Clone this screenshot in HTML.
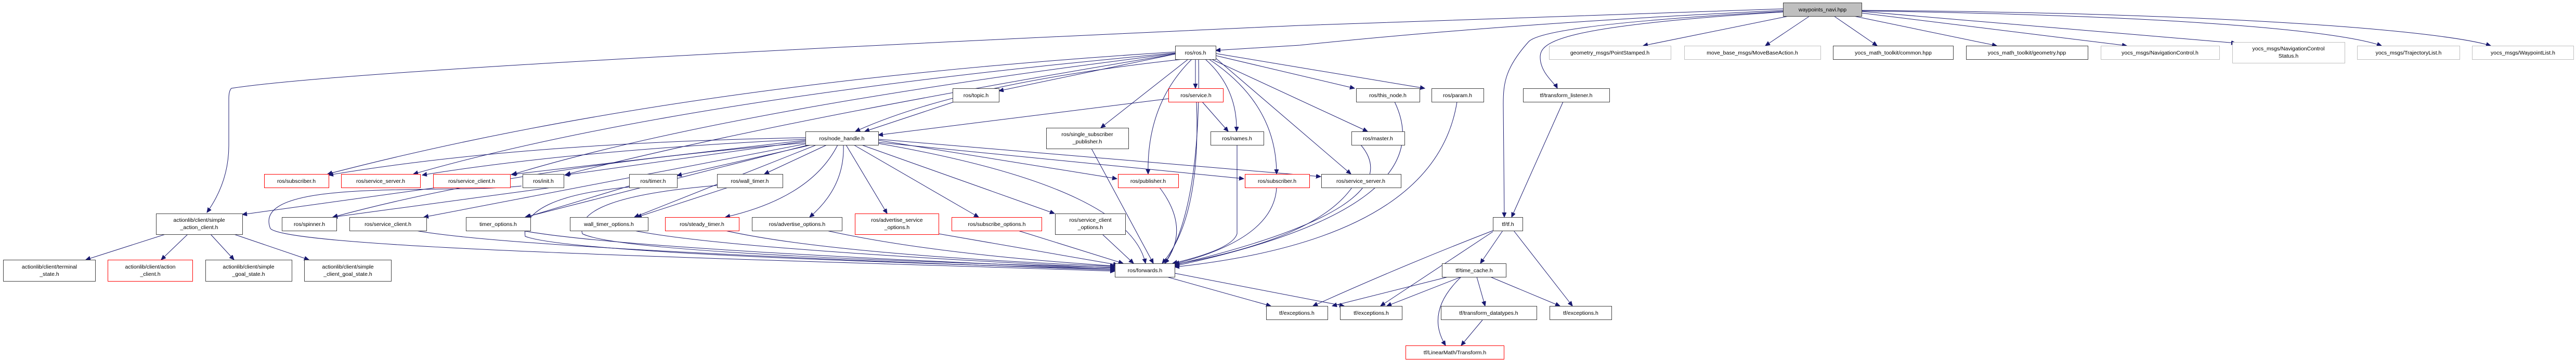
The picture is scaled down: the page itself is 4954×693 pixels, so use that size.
<!DOCTYPE html>
<html><head><meta charset="utf-8"><style>
html,body{margin:0;padding:0;background:#fff;}
svg{display:block;}
text{font-family:"Liberation Sans",sans-serif;font-size:10.5px;fill:#000;}
.e{fill:none;stroke:#191970;stroke-width:1;marker-end:url(#a);}
.n{fill:#fff;stroke:#404040;stroke-width:1;}
.r{fill:#fff;stroke:#ff0000;stroke-width:1;}
.g{fill:#fff;stroke:#bfbfbf;stroke-width:1;}
</style></head><body>
<svg width="4954" height="693" viewBox="0 0 4954 693" xmlns="http://www.w3.org/2000/svg">
<defs><marker id="a" markerUnits="userSpaceOnUse" markerWidth="10" markerHeight="10" refX="9" refY="4" orient="auto"><path d="M0,0 L9,4 L0,8 z" fill="#191970" stroke="#191970"/></marker></defs>
<g>
<!-- waypoints edges -->
<path class="e" d="M3429,20 Q2900,45 2500,87 L2338,97"/>
<path class="e" d="M3429,17 L2500,49 Q700,130 445,170 Q440,175 440,190 L440,280 Q440,350 398,409"/>
<path class="e" d="M3440,31 L3160,88"/>
<path class="e" d="M3480,31 L3395,88"/>
<path class="e" d="M3527,31 L3610,88"/>
<path class="e" d="M3565,31 L3840,88"/>
<path class="e" d="M3580,25 L4090,88"/>
<path class="e" d="M3580,22 L4300,83"/>
<path class="e" d="M3580,21 C4200,30 4500,60 4580,88"/>
<path class="e" d="M3580,20 C4300,25 4700,60 4790,88"/>
<path class="e" d="M3429,22 C3100,40 2960,60 2940,80 C2895,130 2891,160 2891,200 L2893,418"/>
<path class="e" d="M3429,23 C3000,50 2962,80 2962,110 C2962,140 2990,160 2995,170"/>
<!-- ros.h edges -->
<path class="e" d="M2260,100 Q1300,160 630,335"/>
<path class="e" d="M2260,102 Q1300,190 795,335"/>
<path class="e" d="M2260,103 Q1400,210 985,336"/>
<path class="e" d="M2260,104 Q1500,230 1088,336"/>
<path class="e" d="M2260,104 L1921,175"/>
<path class="e" d="M2275,114 Q1850,160 1645,253"/>
<path class="e" d="M2299,114 L2299,170"/>
<path class="e" d="M2285,114 L2117,246"/>
<path class="e" d="M2292,114 Q2205,200 2208,335"/>
<path class="e" d="M2318,114 Q2380,170 2378,253"/>
<path class="e" d="M2325,114 Q2455,200 2455,335"/>
<path class="e" d="M2330,114 L2630,253"/>
<path class="e" d="M2338,112 L2598,335"/>
<path class="e" d="M2338,107 L2605,170"/>
<path class="e" d="M2338,103 L2740,170"/>
<path class="e" d="M2305,114 Q2310,400 2240,507"/>
<path class="e" d="M2247,190 L1689,260"/>
<path class="e" d="M2312,196 L2362,253"/>
<path class="e" d="M2301,196 Q2310,420 2235,507"/>
<path class="e" d="M1835,196 L1663,253"/>
<path class="e" d="M2099,286 Q2150,380 2218,507"/>
<path class="e" d="M2379,279 L2379,450 Q2370,480 2255,507"/>
<path class="e" d="M2617,279 Q2720,400 2259,510"/>
<path class="e" d="M2682,196 Q2780,400 2259,512"/>
<path class="e" d="M2802,196 Q2760,460 2259,514"/>
<path class="e" d="M2600,361 Q2530,460 2259,509"/>
<path class="e" d="M2455,361 Q2450,460 2259,508"/>
<path class="e" d="M2230,361 Q2290,440 2240,507"/>
<!-- tf -->
<path class="e" d="M2890,444 L2847,507"/>
<path class="e" d="M2911,444 L3024,589"/>
<path class="e" d="M2871,446 L2655,589"/>
<path class="e" d="M2871,444 Q2700,510 2525,589"/>
<path class="e" d="M2810,533 L2667,589"/>
<path class="e" d="M2785,533 L2562,589"/>
<path class="e" d="M2840,533 L2856,589"/>
<path class="e" d="M2866,533 L3000,589"/>
<path class="e" d="M2810,533 Q2740,600 2780,665"/>
<path class="e" d="M2851,616 L2810,665"/>
<path class="e" d="M3006,196 L2907,418"/>
<path class="e" d="M2244,533 L2444,589"/>
<path class="e" d="M2259,526 L2585,589"/>
<!-- node_handle -->
<path class="e" d="M1549,265 Q1000,275 632,337"/>
<path class="e" d="M1549,268 Q1100,290 812,337"/>
<path class="e" d="M1549,270 L983,336"/>
<path class="e" d="M1549,272 L1086,337"/>
<path class="e" d="M1560,279 L1302,338"/>
<path class="e" d="M1590,279 L1470,335"/>
<path class="e" d="M1549,275 Q1000,320 640,418"/>
<path class="e" d="M1549,277 L815,418"/>
<path class="e" d="M1555,279 L1010,418"/>
<path class="e" d="M1570,279 L1220,418"/>
<path class="e" d="M1611,279 Q1560,380 1395,418"/>
<path class="e" d="M1622,279 Q1625,360 1557,418"/>
<path class="e" d="M1627,279 L1706,411"/>
<path class="e" d="M1642,279 L1882,418"/>
<path class="e" d="M1657,279 L2028,411"/>
<path class="e" d="M1689,270 L2148,344"/>
<path class="e" d="M1689,274 L2392,344"/>
<path class="e" d="M1689,268 L2540,340"/>
<path class="e" d="M1689,276 Q2170,360 2203,507"/>
<path class="e" d="M840,361 L466,413"/>
<path class="e" d="M1003,358 C850,375 480,340 520,440 C560,480 1500,500 2144,522"/>
<path class="e" d="M1060,361 L640,418"/>
<path class="e" d="M1210,358 L1012,418"/>
<path class="e" d="M1210,360 Q1000,380 1010,455 Q1100,490 2144,518"/>
<path class="e" d="M1400,361 L1225,418"/>
<path class="e" d="M1379,357 Q1100,380 1120,450 Q1200,490 2144,515"/>
<path class="e" d="M800,444 Q1000,480 2144,520"/>
<path class="e" d="M1005,444 Q1200,480 2144,518"/>
<path class="e" d="M1220,444 Q1400,480 2144,516"/>
<path class="e" d="M1395,444 Q1600,490 2144,513"/>
<path class="e" d="M1590,444 Q1800,490 2144,512"/>
<path class="e" d="M1805,450 L2150,510"/>
<path class="e" d="M1958,444 L2160,507"/>
<path class="e" d="M2120,451 L2180,507"/>
<path class="e" d="M318,451 L165,500"/>
<path class="e" d="M361,451 L310,500"/>
<path class="e" d="M405,451 L450,500"/>
<path class="e" d="M450,451 L594,500"/>
</g>
<g text-anchor="middle">
<rect x="3429.5" y="5.5" width="151" height="26" fill="#bfbfbf" stroke="#404040"/><text x="3505" y="22">waypoints_navi.hpp</text>
<rect class="n" x="2260.5" y="88.5" width="78" height="26"/><text x="2299" y="105">ros/ros.h</text>
<rect class="g" x="2979.5" y="88.5" width="234" height="26"/><text x="3096" y="105">geometry_msgs/PointStamped.h</text>
<rect class="g" x="3239.5" y="88.5" width="262" height="26"/><text x="3370" y="105">move_base_msgs/MoveBaseAction.h</text>
<rect class="n" x="3525.5" y="88.5" width="231" height="26"/><text x="3641" y="105">yocs_math_toolkit/common.hpp</text>
<rect class="n" x="3781.5" y="88.5" width="234" height="26"/><text x="3898" y="105">yocs_math_toolkit/geometry.hpp</text>
<rect class="g" x="4040.5" y="88.5" width="228" height="26"/><text x="4154" y="105">yocs_msgs/NavigationControl.h</text>
<rect class="g" x="4293.5" y="81.5" width="216" height="40"/><text x="4401" y="97">yocs_msgs/NavigationControl</text><text x="4401" y="111">Status.h</text>
<rect class="g" x="4533.5" y="88.5" width="197" height="26"/><text x="4632" y="105">yocs_msgs/TrajectoryList.h</text>
<rect class="g" x="4754.5" y="88.5" width="195" height="26"/><text x="4852" y="105">yocs_msgs/WaypointList.h</text>
<rect class="n" x="1832.5" y="170.5" width="89" height="26"/><text x="1877" y="187">ros/topic.h</text>
<rect class="r" x="2247.5" y="170.5" width="105" height="26"/><text x="2300" y="187">ros/service.h</text>
<rect class="n" x="2608.5" y="170.5" width="122" height="26"/><text x="2669" y="187">ros/this_node.h</text>
<rect class="n" x="2753.5" y="170.5" width="100" height="26"/><text x="2803" y="187">ros/param.h</text>
<rect class="n" x="2929.5" y="170.5" width="166" height="26"/><text x="3012" y="187">tf/transform_listener.h</text>
<rect class="n" x="1549.5" y="253.5" width="140" height="26"/><text x="1619" y="270">ros/node_handle.h</text>
<rect class="n" x="2012.5" y="246.5" width="158" height="40"/><text x="2091" y="262">ros/single_subscriber</text><text x="2091" y="276">_publisher.h</text>
<rect class="n" x="2328.5" y="253.5" width="102" height="26"/><text x="2379" y="270">ros/names.h</text>
<rect class="n" x="2599.5" y="253.5" width="102" height="26"/><text x="2650" y="270">ros/master.h</text>
<rect class="r" x="508.5" y="335.5" width="124" height="26"/><text x="570" y="352">ros/subscriber.h</text>
<rect class="r" x="656.5" y="335.5" width="152" height="26"/><text x="732" y="352">ros/service_server.h</text>
<rect class="r" x="833.5" y="335.5" width="148" height="26"/><text x="907" y="352">ros/service_client.h</text>
<rect class="n" x="1005.5" y="335.5" width="79" height="26"/><text x="1045" y="352">ros/init.h</text>
<rect class="n" x="1210.5" y="335.5" width="92" height="26"/><text x="1256" y="352">ros/timer.h</text>
<rect class="n" x="1379.5" y="335.5" width="126" height="26"/><text x="1442" y="352">ros/wall_timer.h</text>
<rect class="r" x="2150.5" y="335.5" width="116" height="26"/><text x="2208" y="352">ros/publisher.h</text>
<rect class="r" x="2394.5" y="335.5" width="124" height="26"/><text x="2456" y="352">ros/subscriber.h</text>
<rect class="n" x="2541.5" y="335.5" width="153" height="26"/><text x="2617" y="352">ros/service_server.h</text>
<rect class="n" x="300.5" y="411.5" width="166" height="40"/><text x="383" y="427">actionlib/client/simple</text><text x="383" y="441">_action_client.h</text>
<rect class="n" x="542.5" y="418.5" width="105" height="26"/><text x="595" y="435">ros/spinner.h</text>
<rect class="n" x="672.5" y="418.5" width="148" height="26"/><text x="746" y="435">ros/service_client.h</text>
<rect class="n" x="896.5" y="418.5" width="124" height="26"/><text x="958" y="435">timer_options.h</text>
<rect class="n" x="1096.5" y="418.5" width="150" height="26"/><text x="1171" y="435">wall_timer_options.h</text>
<rect class="r" x="1279.5" y="418.5" width="142" height="26"/><text x="1350" y="435">ros/steady_timer.h</text>
<rect class="n" x="1446.5" y="418.5" width="173" height="26"/><text x="1533" y="435">ros/advertise_options.h</text>
<rect class="r" x="1644.5" y="411.5" width="161" height="40"/><text x="1725" y="427">ros/advertise_service</text><text x="1725" y="441">_options.h</text>
<rect class="r" x="1830.5" y="418.5" width="173" height="26"/><text x="1917" y="435">ros/subscribe_options.h</text>
<rect class="n" x="2029.5" y="411.5" width="135" height="40"/><text x="2097" y="427">ros/service_client</text><text x="2097" y="441">_options.h</text>
<rect class="n" x="2871.5" y="418.5" width="57" height="26"/><text x="2900" y="435">tf/tf.h</text>
<rect class="n" x="6.5" y="500.5" width="177" height="41"/><text x="95" y="517">actionlib/client/terminal</text><text x="95" y="531">_state.h</text>
<rect class="r" x="207.5" y="500.5" width="163" height="41"/><text x="289" y="517">actionlib/client/action</text><text x="289" y="531">_client.h</text>
<rect class="n" x="395.5" y="500.5" width="166" height="41"/><text x="478" y="517">actionlib/client/simple</text><text x="478" y="531">_goal_state.h</text>
<rect class="n" x="585.5" y="500.5" width="167" height="41"/><text x="669" y="517">actionlib/client/simple</text><text x="669" y="531">_client_goal_state.h</text>
<rect class="n" x="2144.5" y="507.5" width="115" height="26"/><text x="2202" y="524">ros/forwards.h</text>
<rect class="n" x="2773.5" y="507.5" width="123" height="26"/><text x="2835" y="524">tf/time_cache.h</text>
<rect class="n" x="2435.5" y="589.5" width="118" height="26"/><text x="2494" y="606">tf/exceptions.h</text>
<rect class="n" x="2577.5" y="589.5" width="119" height="26"/><text x="2637" y="606">tf/exceptions.h</text>
<rect class="n" x="2771.5" y="589.5" width="184" height="26"/><text x="2863" y="606">tf/transform_datatypes.h</text>
<rect class="n" x="2980.5" y="589.5" width="119" height="26"/><text x="3040" y="606">tf/exceptions.h</text>
<rect class="r" x="2703.5" y="665.5" width="189" height="26"/><text x="2798" y="682">tf/LinearMath/Transform.h</text>
</g>
</svg>
</body></html>
